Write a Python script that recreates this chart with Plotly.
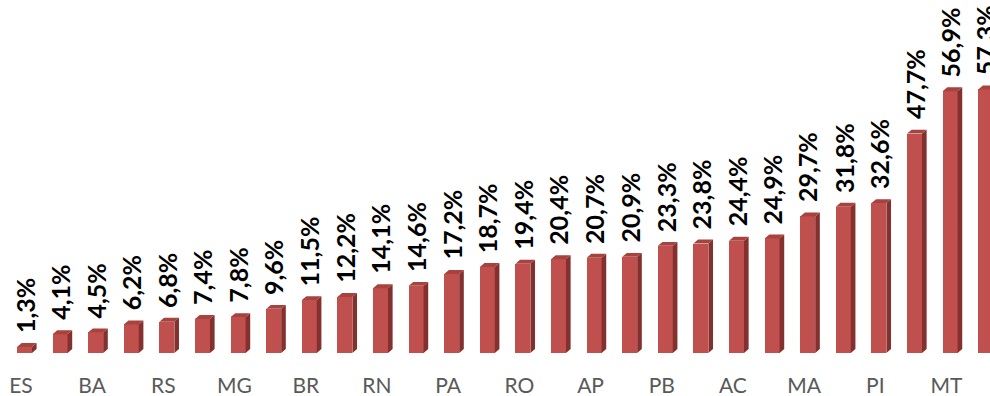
import plotly.graph_objects as go

categories = ["ES", "SC", "BA", "SP", "RS", "PR", "MG", "GO", "BR", "RJ",
              "RN", "MS", "PA", "DF", "RO", "CE", "AP", "PE", "PB", "AL",
              "AC", "SE", "MA", "TO", "PI", "AM", "MT", "RR"]
values = [1.3, 4.1, 4.5, 6.2, 6.8, 7.4, 7.8, 9.6, 11.5, 12.2,
          14.1, 14.6, 17.2, 18.7, 19.4, 20.4, 20.7, 20.9, 23.3, 23.8,
          24.4, 24.9, 29.7, 31.8, 32.6, 47.7, 56.9, 57.3]
shown_labels = categories[::2]

FRONT = "#C0504D"
SIDE = "#84302E"
TOP = "#A8423F"

idx = list(range(len(values)))
W = 0.42      # bar width (x units)
DX = 0.13     # depth offset in x units
DY = 0.85     # depth offset in y units

side_x, side_y, top_x, top_y = [], [], [], []
for i, v in zip(idx, values):
    r = i + W / 2
    l = i - W / 2
    side_x += [r, r + DX, r + DX, r, r, None]
    side_y += [0, DY, v + DY, v, 0, None]
    top_x += [l, l + DX, r + DX, r, l, None]
    top_y += [v, v + DY, v + DY, v, v, None]

fig = go.Figure()
fig.add_trace(go.Bar(x=idx, y=values, width=W, marker=dict(color=FRONT, line=dict(width=0)),
                     hoverinfo="skip"))
fig.add_trace(go.Scatter(x=side_x, y=side_y, mode="lines", fill="toself", fillcolor=SIDE,
                         line=dict(width=0, color=SIDE), hoverinfo="skip"))
fig.add_trace(go.Scatter(x=top_x, y=top_y, mode="lines", fill="toself", fillcolor=TOP,
                         line=dict(width=0, color=TOP), hoverinfo="skip"))

for i, v in zip(idx, values):
    fig.add_annotation(x=i, y=v, text=f"{v:.1f}".replace(".", ",") + "%",
                       textangle=-90, showarrow=False, xanchor="center", yanchor="bottom",
                       yshift=12, font=dict(family="Lato", size=25, color="#000000", weight="bold"))

fig.update_layout(
    width=990, height=396,
    margin=dict(l=0, r=0, t=0, b=43),
    plot_bgcolor="white", paper_bgcolor="white",
    showlegend=False,
    bargap=0,
    xaxis=dict(range=[-0.688, 27.12], tickmode="array",
               tickvals=[i - 0.1 for i in idx[::2]], ticktext=shown_labels,
               showgrid=False, zeroline=False, showline=False,
               ticks="outside", ticklen=14, tickcolor="rgba(0,0,0,0)",
               tickfont=dict(family="Lato", size=21, color="#595959")),
    yaxis=dict(range=[0, 76.74], visible=False, showgrid=False, zeroline=False),
)

fig.write_html("out.html")
